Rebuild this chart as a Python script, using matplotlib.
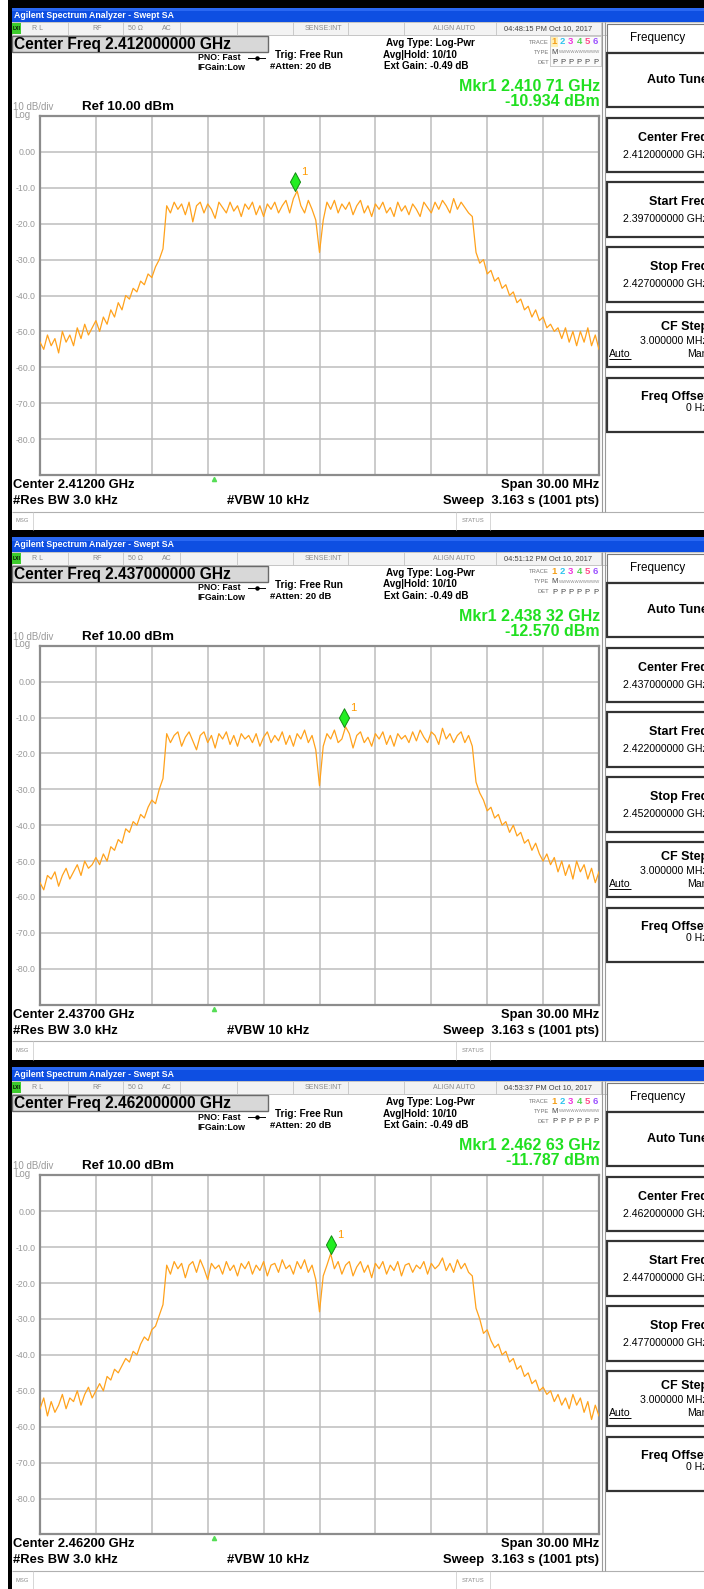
# Three swept-SA screenshots (2.412 / 2.437 / 2.462 GHz channels) redrawn with matplotlib.

import numpy as np
import matplotlib.pyplot as plt
from matplotlib.patches import Rectangle
from matplotlib.path import Path

plt.rcParams['font.family'] = ['Liberation Sans', 'DejaVu Sans']

# --- Data ---
center_ghz = [2.412, 2.437, 2.462]
span_mhz = 30.0
ref_level_dbm = 10.0
mkr_freq_ghz = [2.41071, 2.43832, 2.46263]
mkr_level_dbm = [-10.934, -12.570, -11.787]
time_stamps = ["04:48:15 PM Oct 10, 2017", "04:51:12 PM Oct 10, 2017",
               "04:53:37 PM Oct 10, 2017"]
y_tick_values = [0, -10, -20, -30, -40, -50, -60, -70, -80]

trace_1 = [
    -53, -55, -51, -54, -52, -56, -50, -53, -51, -54, -49, -52, -48, -51, -49, -47, -50,
    -46, -48, -44, -46, -42, -44, -40, -41, -38, -39, -36, -37, -34, -35, -32, -30, -27,
    -15, -17, -14, -16, -14.5, -17.5, -14, -19.5, -15, -14,
    -17, -14.5, -16, -18.5, -14, -15.5, -17, -14, -16.5, -15,
    -18, -14.5, -16, -14, -17.5, -15, -18, -14.5, -16, -14,
    -17, -15, -13.5, -17, -13, -10.9, -15, -17, -13.5, -16,
    -19, -28, -19, -14, -16, -13.5, -17, -14.5, -16, -14,
    -17.5, -15, -13.5, -17, -15, -18, -14.5, -16, -14, -17,
    -15.5, -18, -14, -16.5, -15, -17.5, -14.5, -16, -18, -14,
    -15.5, -17, -14, -16, -13.5, -15, -17, -13, -16, -14,
    -15.5, -17, -18,
    -28, -31, -30, -34, -33, -36, -35, -38, -37, -40, -39, -42, -41, -44, -43, -46, -44,
    -47, -46, -49, -48, -50, -49, -52, -49, -53, -50, -54, -50, -53, -49, -54, -51, -55,
]
trace_2 = [
    -56, -58, -54, -55, -53, -57, -54, -52, -55, -53, -51, -54, -50, -52, -51, -49, -51,
    -48, -50, -46, -47, -44, -45, -41, -42, -39, -40, -37, -38, -35, -33, -34, -30, -27,
    -14.5, -17, -15, -14, -18, -15.5, -14, -16.5, -19, -15,
    -14, -17, -15, -18.5, -14.5, -16, -14, -17.5, -15, -18,
    -14.5, -16, -15, -17, -14.5, -18, -15.5, -14, -17, -15,
    -16.5, -14, -17.5, -15, -18, -14.5, -16, -13.5, -17, -15,
    -19, -29, -18, -14.5, -16, -13.5, -17, -16, -12.6, -14.5,
    -18.5, -15, -14, -17, -15.5, -18, -14.5, -16, -14, -17.5,
    -15, -18, -14.5, -16, -15, -17, -14, -16.5, -13.5, -15.5,
    -17, -14, -15, -17.5, -13, -16, -14.5, -17, -15, -14,
    -17, -15, -18,
    -28, -31, -33, -36, -35, -38, -37, -40, -39, -42, -40, -43, -42, -45, -44, -47, -45,
    -48, -50, -48, -51, -49, -53, -50, -54, -51, -55, -50, -53, -51, -55, -52, -56, -53,
]
trace_3 = [
    -55, -52, -57, -53, -56, -54, -51, -55, -52, -53, -50, -54, -51, -49, -52, -50, -48,
    -50, -46, -47, -44, -45, -43, -41, -42, -39, -40, -37, -35, -36, -33, -32, -29, -26,
    -15, -17.5, -14, -16, -14.5, -18.5, -15, -14, -17, -13.5,
    -16, -19, -14.5, -16, -15, -17.5, -14, -16.5, -15, -18,
    -14.5, -16, -14, -17.5, -15, -16.5, -14, -18, -15, -14.5,
    -17, -13.5, -16, -15, -17.5, -14, -16, -13.5, -17, -15,
    -19, -28, -18, -15, -11.8, -16, -14, -17.5, -15, -14,
    -18, -15.5, -14, -17, -15, -18.5, -14.5, -16, -14, -17.5,
    -15, -16.5, -14, -18, -15, -14.5, -17, -15, -16, -14,
    -17.5, -14.5, -16, -15, -13, -16.5, -14.5, -17, -13.5, -16,
    -14.5, -17, -18,
    -27, -30, -34, -33, -36, -38, -37, -40, -39, -42, -41, -44, -43, -46, -45, -48, -47,
    -50, -49, -51, -50, -53, -51, -54, -52, -55, -51, -54, -52, -56, -53, -58, -54, -57,
]
traces = [trace_1, trace_2, trace_3]

# --- Layout (pixels) ---
W, H = 704, 1589
PANEL_H = 529.7
GX0, GX1 = 40, 599        # graticule left / right
GY0, GY1 = 116, 475       # graticule top / bottom (relative to panel top)

fig = plt.figure(figsize=(W / 100, H / 100), dpi=100)
bg = fig.add_axes([0, 0, 1, 1])
bg.set_xlim(0, W)
bg.set_ylim(H, 0)
bg.axis('off')


def box(x0, y0, x1, y1, fc='none', ec='none', lw=1.0, z=1):
    bg.add_patch(Rectangle((x0, y0), x1 - x0, y1 - y0, facecolor=fc,
                           edgecolor=ec, linewidth=lw, zorder=z))


def hline(x0, x1, y, color='#999999', lw=0.8):
    bg.plot([x0, x1], [y, y], color=color, lw=lw, solid_capstyle='butt', zorder=3)


def vline(x, y0, y1, color='#999999', lw=0.8):
    bg.plot([x, x], [y0, y1], color=color, lw=lw, solid_capstyle='butt', zorder=3)


# black screen surround
box(8, 0, W, H, fc='black', z=0)

# marker glyph: diamond whose lower tip sits on the trace point
diamond = Path([(0, 0), (0.27, 0.5), (0, 1), (-0.27, 0.5), (0, 0)],
               [Path.MOVETO, Path.LINETO, Path.LINETO, Path.LINETO, Path.CLOSEPOLY])

trace_num_colors = ['#f5a01a', '#30c4ee', '#ee38dc', '#55d655', '#ff4a8a', '#9a50ff']

for k in range(3):
    t = k * PANEL_H
    c = center_ghz[k]
    start = c - span_mhz / 2000
    stop = c + span_mhz / 2000

    def T(x, y, s, size=7, weight='normal', color='black', ha='left', va='center', **kw):
        bg.text(x, t + y, s, fontsize=size, fontweight=weight, color=color,
                ha=ha, va=va, zorder=5, **kw)

    # title bar + body
    box(12, t + 7.5, W, t + 22, fc='#0e4fe2', z=1)
    box(12, t + 7.5, W, t + 11, fc='#2a68f2', z=1)
    T(14, 15, 'Agilent Spectrum Analyzer - Swept SA', size=6.3, weight='bold', color='white')
    box(12, t + 22, W, t + 530, fc='white', z=1)

    # status row
    box(12, t + 22, W, t + 35, fc='#f3f3f3', ec='#bdbdbd', lw=0.6, z=2)
    for sx in [68, 123, 180, 237, 293, 348, 404, 496, 601]:
        vline(sx, t + 22, t + 35, color='#c4c4c4', lw=0.6)
    box(12, t + 23, 21, t + 34, fc='#3ccc2c', z=3)
    T(16.5, 28.5, 'LXI', size=3.6, weight='bold', ha='center')
    T(32, 28.5, 'R L', size=5, color='#8a8a8a')
    T(92, 28.5, 'RF', size=5, color='#8a8a8a')
    T(128, 28.5, '50 \u03a9', size=5, color='#8a8a8a')
    T(162, 28.5, 'AC', size=5, color='#8a8a8a')
    T(342, 28.5, 'SENSE:INT', size=5, color='#8a8a8a', ha='right')
    T(454, 28.5, 'ALIGN AUTO', size=5, color='#8a8a8a', ha='center')
    T(548, 28.5, time_stamps[k], size=5.4, color='#444444', ha='center')

    # center freq title box
    box(12, t + 36, 268, t + 52, fc='#d8d8d8', ec='#6a6a6a', lw=1.0, z=2)
    T(14, 44.5, 'Center Freq %.9f GHz' % c, size=11.2, weight='bold')

    # settings text
    T(240, 58, 'PNO: Fast', size=6.3, weight='bold', ha='right')
    bg.plot([248, 265], [t + 58, t + 58], color='black', lw=0.7, zorder=4)
    bg.plot([256.5], [t + 58], marker='o', ms=2.2, color='black', zorder=4)
    T(245, 68, 'IFGain:Low', size=6.3, weight='bold', ha='right')
    T(275, 55, 'Trig: Free Run', size=7.2, weight='bold')
    T(270, 66.5, '#Atten: 20 dB', size=6.8, weight='bold')
    T(386, 43, 'Avg Type: Log-Pwr', size=7.1, weight='bold')
    T(383, 54.5, 'Avg|Hold: 10/10', size=7.1, weight='bold')
    T(384, 66, 'Ext Gain: -0.49 dB', size=7.1, weight='bold')

    # trace / type / det block
    T(549, 42, 'TRACE', size=4.2, color='#777777', ha='right')
    T(549, 52, 'TYPE', size=4.2, color='#777777', ha='right')
    T(549, 62, 'DET', size=4.2, color='#777777', ha='right')
    box(550, 36, 601, 66, fc='#fbfbfb', ec='#c8c8c8', lw=0.6, z=2)
    box(551, 37, 558, 47, fc='#fff0b8', z=3)
    for j in range(6):
        xx = 554.5 + j * 8.2
        T(xx, 42, str(j + 1), size=6.8, weight='bold', color=trace_num_colors[j], ha='center')
        T(xx, 62.5, 'P', size=5.5, color='#444444', ha='center')
    T(554.5, 52, 'M', size=5.5, color='#444444', ha='center')
    T(559, 52, 'WWWWWWWWWW', size=3.2, color='#888888')

    # marker readout
    f_txt = '%.5f' % mkr_freq_ghz[k]
    T(600, 86.5, 'Mkr1 %s %s GHz' % (f_txt[:5], f_txt[5:]), size=11.5,
      weight='bold', color='#20e020', ha='right')
    T(600, 101.5, '%.3f dBm' % mkr_level_dbm[k], size=11.5, weight='bold',
      color='#20e020', ha='right')

    T(13, 107, '10 dB/div', size=7, color='#9a9a9a')
    T(14, 114.5, 'Log', size=7, color='#9a9a9a')
    T(82, 107, 'Ref %.2f dBm' % ref_level_dbm, size=9.6, weight='bold')

    # graticule + trace
    ax = fig.add_axes([GX0 / W, 1 - (t + GY1) / H, (GX1 - GX0) / W, (GY1 - GY0) / H])
    ax.set_facecolor('white')
    ax.set_xlim(start, stop)
    ax.set_ylim(ref_level_dbm - 100, ref_level_dbm)
    ax.set_xticks(np.linspace(start, stop, 11))
    ax.set_xticklabels([])
    ax.set_yticks(y_tick_values)
    ax.set_yticklabels(['0.00' if v == 0 else '%.1f' % v for v in y_tick_values])
    ax.tick_params(length=0)
    ax.tick_params(axis='y', pad=3, labelsize=6.3, labelcolor='#9a9a9a')
    ax.grid(True, color='#bdbdbd', lw=1.1)
    ax.set_axisbelow(True)
    for sp in ax.spines.values():
        sp.set_color('#8c8c8c')
        sp.set_linewidth(1.6)

    freqs = np.linspace(start, stop, len(traces[k]))
    ax.plot(freqs, traces[k], color='#ffa21c', lw=0.9, zorder=3)
    ax.plot([mkr_freq_ghz[k]], [mkr_level_dbm[k]], marker=diamond, ms=27,
            mfc='#22ee22', mec='#128a12', mew=0.7, ls='none', zorder=4, clip_on=False)
    ax.annotate('1', (mkr_freq_ghz[k], mkr_level_dbm[k]), xytext=(4, 13.5),
                textcoords='offset points', color='#ff9a00', fontsize=8,
                ha='left', va='center', zorder=5)

    # small green indicator under the graticule
    bg.plot([214], [t + 479], marker='^', ms=3, color='#55dd55', zorder=4)

    # bottom annotation
    T(13, 485, 'Center %.5f GHz' % c, size=9.4, weight='bold')
    T(13, 501, '#Res BW 3.0 kHz', size=9.4, weight='bold')
    T(227, 501, '#VBW 10 kHz', size=9.4, weight='bold')
    T(599, 485, 'Span %.2f MHz' % span_mhz, size=9.4, weight='bold', ha='right')
    T(599, 501, 'Sweep  3.163 s (1001 pts)', size=9.4, weight='bold', ha='right')

    # message row
    hline(12, W, t + 511.5, color='#b0b0b0', lw=0.8)
    vline(33, t + 511.5, t + 530, color='#d0d0d0', lw=0.6)
    vline(456, t + 511.5, t + 530, color='#d0d0d0', lw=0.6)
    vline(490, t + 511.5, t + 530, color='#d0d0d0', lw=0.6)
    T(22.5, 521, 'MSG', size=4.2, color='#8a8a8a', ha='center')
    T(473, 521, 'STATUS', size=4.2, color='#8a8a8a', ha='center')

    # softkey panel (labels run past the right edge, as on the captured screen)
    vline(602, t + 22, t + 511.5, color='#9a9a9a', lw=0.8)
    vline(605, t + 22, t + 511.5, color='#9a9a9a', lw=0.8)
    box(607, t + 24, 712, t + 52, fc='white', ec='#7a7a7a', lw=0.8, z=2)
    T(658, 38, 'Frequency', size=8.4, ha='center')
    key_tops = [53, 118, 182, 247, 312, 378]
    key_bots = [107, 172, 237, 302, 367, 432]
    for kt, kb in zip(key_tops, key_bots):
        box(607, t + kt, 712, t + kb, fc='white', ec='#333333', lw=1.6, z=2)
    T(708, 80, 'Auto Tune', size=9, weight='bold', ha='right')
    key_vals = ['%.9f GHz' % c, '%.9f GHz' % start, '%.9f GHz' % stop]
    for name, val, kt in zip(['Center Freq', 'Start Freq', 'Stop Freq'], key_vals, key_tops[1:4]):
        T(708, kt + 20, name, size=9, weight='bold', ha='right')
        T(708, kt + 37, val, size=7.6, ha='right')
    T(708, 327, 'CF Step', size=9, weight='bold', ha='right')
    T(708, 341, '3.000000 MHz', size=7.6, ha='right')
    T(609, 354, 'Auto', size=7.6)
    hline(609, 631, t + 359, color='black', lw=0.7)
    T(708, 354, 'Man', size=7.6, ha='right')
    T(708, 397, 'Freq Offset', size=9, weight='bold', ha='right')
    T(708, 408, '0 Hz', size=7.6, ha='right')

fig.savefig('out.png', dpi=100)
print("saved out.png")
